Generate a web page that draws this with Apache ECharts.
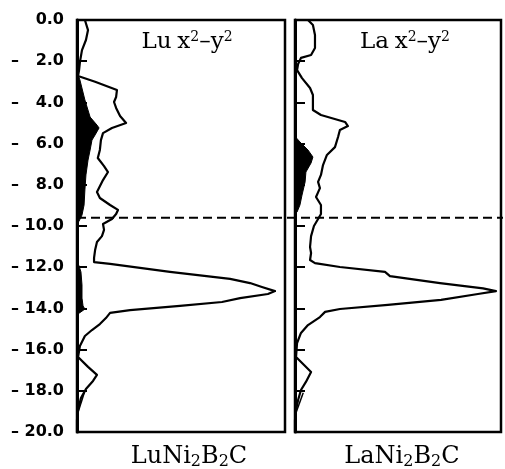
<!DOCTYPE html>
<html>
<head>
<meta charset="utf-8">
<script src="https://cdn.jsdelivr.net/npm/echarts@6/dist/echarts.min.js"></script>
<style>
  html, body { margin: 0; padding: 0; background: #fff; }
  #chart { width: 505px; height: 469px; }
</style>
</head>
<body>
<div id="chart"></div>
<script>
// Projected x²−y² density of states (arbitrary units) versus energy (eV)

// LuNi2B2C: Lu x²−y² curve
const luEnergy = [0, -0.49, -0.97, -1.46, -2.04, -2.43, -2.72, -3.00, -3.40, -3.74, -3.98, -4.27, -4.66, -5.00, -5.24, -5.49, -5.83, -6.31, -6.70, -7.09, -7.38, -7.77, -8.35, -8.64, -8.98, -9.22, -9.42, -9.66, -9.90, -10.19, -10.49, -10.78, -11.17, -11.55, -11.75, -11.84, -12.23, -12.57, -12.77, -12.96, -13.16, -13.30, -13.50, -13.69, -13.88, -14.08, -14.22, -14.47, -14.76, -15.05, -15.34, -15.83, -16.36, -16.84, -17.23, -17.52, -17.91, -18.35, -18.93, -19.42, -20];
const luDos    = [0.38, 0.53, 0.43, 0.24, 0.14, 0.10, 0.05, 0.87, 1.92, 1.88, 1.78, 1.88, 2.07, 2.36, 1.68, 1.25, 1.15, 1.10, 1.00, 1.30, 1.49, 1.25, 0.96, 1.10, 1.59, 1.97, 1.88, 1.68, 1.25, 1.30, 1.20, 0.96, 0.87, 0.82, 0.82, 1.59, 4.47, 7.36, 8.32, 8.89, 9.52, 9.18, 7.84, 6.97, 4.95, 2.55, 1.59, 1.39, 1.10, 0.72, 0.38, 0.14, 0.05, 0.53, 0.96, 0.77, 0.43, 0.19, 0.05, 0, 0];

// LuNi2B2C: shaded contributions
const luFillEnergy = [-2.52, -2.91, -3.88, -4.71, -5.10, -5.24, -5.58, -5.83, -6.31, -6.80, -7.52, -8.25, -8.98, -9.47, -9.76, -9.90];
const luFillDos    = [0, 0.14, 0.38, 0.63, 0.96, 1.06, 0.87, 0.72, 0.63, 0.53, 0.43, 0.38, 0.34, 0.24, 0.10, 0];
const luFill2Energy = [-11.75, -11.94, -12.23, -12.86, -13.50, -13.88, -14.03, -14.17, -14.30];
const luFill2Dos    = [0, 0.10, 0.19, 0.24, 0.24, 0.29, 0.38, 0.19, 0];
const luTailEnergy = [-18.0, -19.2];
const luTailDos    = [0.38, 0];

// LaNi2B2C: La x²−y² curve
const laEnergy = [0, -0.24, -0.73, -1.36, -1.70, -1.84, -2.14, -2.43, -2.82, -3.30, -3.64, -4.37, -4.61, -4.95, -5.15, -5.34, -5.68, -6.17, -6.55, -7.04, -7.52, -7.86, -8.16, -8.59, -8.98, -9.42, -9.66, -10.00, -10.49, -11.02, -11.31, -11.65, -11.80, -11.99, -12.23, -12.43, -12.77, -13.03, -13.16, -13.30, -13.59, -13.83, -14.03, -14.17, -14.42, -14.81, -15.19, -15.68, -16.36, -16.75, -17.09, -17.57, -17.96, -18.45, -18.93, -19.42, -20];
const laDos    = [0.63, 0.87, 0.97, 0.97, 0.78, 0.29, 0.15, 0.10, 0.34, 0.73, 0.87, 0.87, 1.26, 2.43, 2.57, 2.18, 2.09, 1.94, 1.55, 1.36, 1.26, 1.12, 1.21, 1.02, 1.26, 1.26, 1.12, 0.92, 0.78, 0.73, 0.78, 0.73, 0.97, 2.18, 4.37, 4.61, 7.04, 9.13, 9.76, 8.88, 7.09, 4.51, 2.18, 1.46, 1.21, 0.63, 0.29, 0.10, 0.05, 0.44, 0.78, 0.53, 0.29, 0.15, 0.05, 0, 0];

// LaNi2B2C: shaded contribution
const laFillEnergy = [-5.65, -5.92, -6.31, -6.65, -6.94, -7.38, -7.86, -8.50, -8.98, -9.32, -9.42];
const laFillDos    = [0, 0.24, 0.63, 0.87, 0.78, 0.53, 0.49, 0.34, 0.24, 0.10, 0];
const laTailEnergy = [-18.1, -19.2];
const laTailDos    = [0.40, 0];

// Fermi level and energy axis
const fermiLevel = -9.6;
const energyMin = -20, energyMax = 0, energyStep = 2;

const zip = (xs, ys) => xs.map((x, i) => [x, ys[i]]);

function formatEnergy(v) {
  if (v === 0) return '0.0';
  const a = Math.abs(v);
  return '\u2013 ' + (a < 10 ? '\u2007' : '') + a.toFixed(1);
}

function polygonSeries(gridIdx, dos, energy) {
  return {
    type: 'custom',
    xAxisIndex: gridIdx, yAxisIndex: gridIdx,
    data: zip(dos, energy),
    silent: true,
    renderItem: function (params, api) {
      if (params.dataIndex !== 0) return null;
      const pts = dos.map((d, i) => api.coord([d, energy[i]]));
      return { type: 'polygon', shape: { points: pts }, style: { fill: '#000', stroke: '#000', lineWidth: 1 } };
    }
  };
}

function curveSeries(gridIdx, dos, energy, width) {
  return {
    type: 'line',
    xAxisIndex: gridIdx, yAxisIndex: gridIdx,
    data: zip(dos, energy),
    showSymbol: false, silent: true,
    lineStyle: { color: '#000', width: width, join: 'round' }
  };
}

function energyAxis(gridIdx, showLabels) {
  return {
    gridIndex: gridIdx, type: 'value',
    min: energyMin, max: energyMax, interval: energyStep,
    axisLine: { show: true, onZero: false, lineStyle: { color: '#000', width: 3 } },
    axisTick: { show: true, inside: true, length: 10, lineStyle: { color: '#000', width: 2 } },
    axisLabel: {
      show: showLabels, margin: 13, formatter: formatEnergy,
      color: '#000', fontFamily: 'DejaVu Sans', fontWeight: 'bold', fontSize: 16
    },
    splitLine: { show: false }
  };
}

// Panel titles: orbital label with superscripts
const titleRich = {
  m: { fontFamily: 'DejaVu Serif', fontSize: 23, lineHeight: 24, fill: '#000' },
  g: { fontFamily: 'DejaVu Serif', fontSize: 18, lineHeight: 24, fill: '#000' },
  p: { fontFamily: 'DejaVu Serif', fontSize: 14, lineHeight: 24, verticalAlign: 'top', padding: [0, 0, 9, 0], fill: '#000' }
};
// Compound names: formula with subscripts
const nameRich = {
  m: { fontFamily: 'DejaVu Serif', fontSize: 24, lineHeight: 26, fill: '#000' },
  s: { fontFamily: 'DejaVu Serif', fontSize: 16, lineHeight: 8, verticalAlign: 'bottom', fill: '#000' }
};

function label(x, y, text, rich) {
  return {
    type: 'text', x: x, y: y,
    style: { text: text, rich: rich, align: 'center', verticalAlign: 'middle', textAlign: 'center', textVerticalAlign: 'middle' }
  };
}

const chart = echarts.init(document.getElementById('chart'));
chart.setOption({
  animation: false,
  backgroundColor: '#fff',
  grid: [
    { left: 77, top: 20, width: 208, height: 412, show: true, borderColor: '#000', borderWidth: 2.5 },
    { left: 295, top: 20, width: 206, height: 412, show: true, borderColor: '#000', borderWidth: 2.5 },
    { left: 77, top: 20, width: 426, height: 412 }
  ],
  xAxis: [
    { gridIndex: 0, type: 'value', min: 0, max: 10, show: false },
    { gridIndex: 1, type: 'value', min: 0, max: 10, show: false },
    { gridIndex: 2, type: 'value', min: 0, max: 1, show: false }
  ],
  yAxis: [
    energyAxis(0, true),
    energyAxis(1, false),
    { gridIndex: 2, type: 'value', min: energyMin, max: energyMax, show: false }
  ],
  graphic: [
    label(187, 42, '{m|Lu}{g| }{m|x}{p|2}{m|\u2013y}{p|2}', titleRich),
    label(405, 42, '{m|La}{g| }{m|x}{p|2}{m|\u2013y}{p|2}', titleRich),
    label(189, 457, '{m|LuNi}{s|2}{m|B}{s|2}{m|C}', nameRich),
    label(402, 457, '{m|LaNi}{s|2}{m|B}{s|2}{m|C}', nameRich)
  ],
  series: [
    polygonSeries(0, luFillDos, luFillEnergy),
    polygonSeries(0, luFill2Dos, luFill2Energy),
    curveSeries(0, luDos, luEnergy, 2.2),
    curveSeries(0, luTailDos, luTailEnergy, 1.5),
    polygonSeries(1, laFillDos, laFillEnergy),
    curveSeries(1, laDos, laEnergy, 2.2),
    curveSeries(1, laTailDos, laTailEnergy, 1.5),
    {
      type: 'line', xAxisIndex: 2, yAxisIndex: 2,
      data: [[0, fermiLevel], [1, fermiLevel]],
      showSymbol: false, silent: true, z: 5,
      lineStyle: { color: '#000', width: 2.2, type: [9, 5] }
    }
  ]
});
</script>
</body>
</html>
